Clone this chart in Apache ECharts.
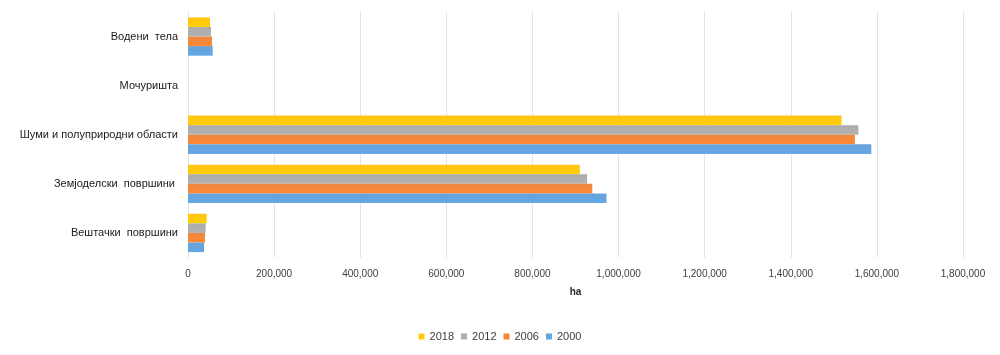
<!DOCTYPE html>
<html><head><meta charset="utf-8">
<script src="https://cdn.jsdelivr.net/npm/echarts@6/dist/echarts.min.js"></script>
<style>html,body{margin:0;padding:0;background:#fff}#c{width:1000px;height:355px}</style>
</head><body><div id="c"></div>
<script>
const categories = ['Вештачки  површини', 'Земјоделски  површини ', 'Шуми и полуприродни области', 'Мочуришта', 'Водени  тела'];
const years = ['2018', '2012', '2006', '2000'];
const v2018 = [43400, 910000, 1518000, 0, 51000];
const v2012 = [41000, 927000, 1557000, 0, 53400];
const v2006 = [39500, 939000, 1549000, 0, 55700];
const v2000 = [37200, 972000, 1587000, 0, 57300];
const colors = ['#FFC000', '#A5A5A5', '#ED7D31', '#5B9BD5'];
const values = [v2018, v2012, v2006, v2000];

const chart = echarts.init(document.getElementById('c'));
const font = 'Liberation Sans';
chart.setOption({
  animation: false,
  color: colors,
  grid: { left: 188, right: 37, top: 12, bottom: 97.5, containLabel: false },
  legend: {
    data: years, bottom: 8, left: 'center', itemWidth: 6, itemHeight: 6, itemGap: 7,
    icon: 'rect',
    textStyle: { fontFamily: font, fontSize: 11, color: '#404040' }
  },
  xAxis: {
    type: 'value', min: 0, max: 1800000, interval: 200000,
    name: 'ha', nameLocation: 'middle', nameGap: 30,
    nameTextStyle: { fontFamily: font, fontSize: 10, fontWeight: 'bold', color: '#262626' },
    axisLine: { show: false }, axisTick: { show: false },
    axisLabel: { fontFamily: font, fontSize: 10, color: '#404040', margin: 12,
      formatter: v => v.toLocaleString('en-US') },
    splitLine: { lineStyle: { color: '#E3E3E3', width: 1 } }
  },
  yAxis: {
    type: 'category', data: categories,
    axisLine: { show: false }, axisTick: { show: false },
    axisLabel: { fontFamily: font, fontSize: 11, color: '#1a1a1a', margin: 10 }
  },
  series: years.map((y, i) => ({
    name: y, type: 'bar', data: values[i], barGap: '0%', barCategoryGap: '22%',
    itemStyle: { color: new echarts.graphic.LinearGradient(0, 0, 0, 1, [
      { offset: 0, color: echarts.color.lift(colors[i], 0.08) },
      { offset: 1, color: echarts.color.lift(colors[i], -0.08) }
    ]) }
  }))
});
</script></body></html>
